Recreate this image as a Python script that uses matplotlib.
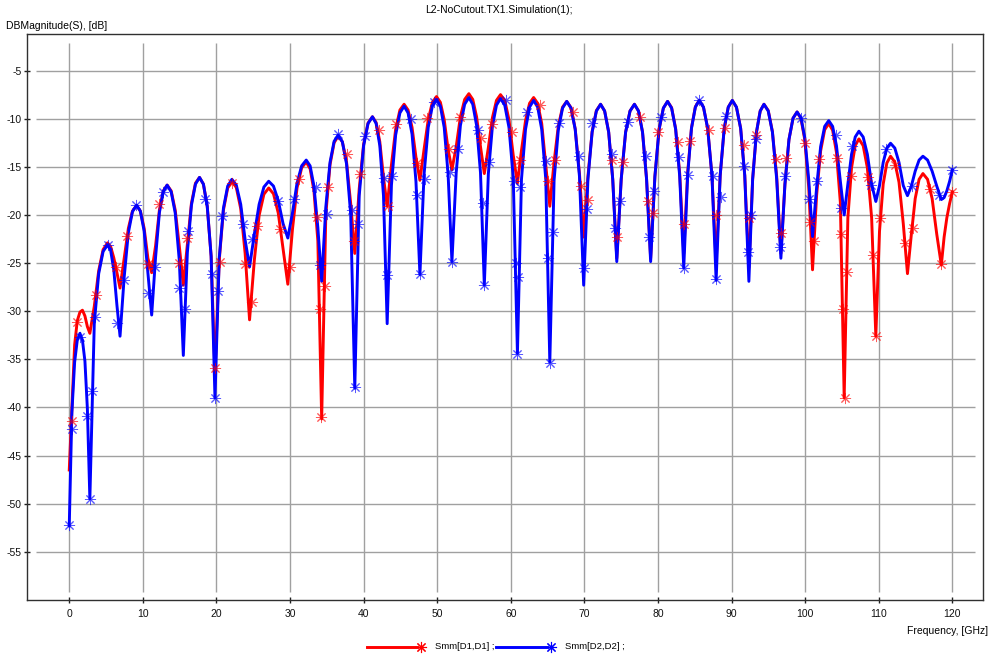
import matplotlib
matplotlib.use('Agg')
import matplotlib.pyplot as plt
from matplotlib.lines import Line2D

plt.rcParams['font.family'] = ['Liberation Sans', 'DejaVu Sans']
plt.rcParams['axes.unicode_minus'] = False

# Frequency points (GHz) shared by both traces
freq = [
    0.0, 0.36, 0.73, 1.09, 1.45, 1.79, 2.13, 2.46, 2.8, 3.4, 4.0, 4.6,
    5.2, 5.63, 6.05, 6.48, 6.9, 7.46, 8.03, 8.59, 9.15, 9.66, 10.18, 10.69,
    11.2, 11.73, 12.25, 12.78, 13.3, 13.85, 14.4, 14.95, 15.5, 16.05, 16.6, 17.15,
    17.7, 18.23, 18.75, 19.28, 19.8, 20.38, 20.95, 21.53, 22.1, 22.7, 23.3, 23.9,
    24.5, 25.15, 25.8, 26.45, 27.1, 27.75, 28.4, 29.05, 29.7, 30.33, 30.95, 31.58,
    32.2, 32.73, 33.25, 33.78, 34.3, 34.86, 35.43, 35.99, 36.55, 37.11, 37.68, 38.24,
    38.8, 39.4, 40.0, 40.6, 41.2, 41.7, 42.2, 42.7, 43.2, 43.78, 44.35, 44.93,
    45.5, 46.04, 46.58, 47.11, 47.65, 48.21, 48.78, 49.34, 49.9, 50.43, 50.95, 51.48,
    52.0, 52.58, 53.15, 53.73, 54.3, 54.83, 55.35, 55.88, 56.4, 56.95, 57.5, 58.05,
    58.6, 59.18, 59.75, 60.33, 60.9, 61.45, 62.0, 62.55, 63.1, 63.65, 64.2, 64.75,
    65.3, 65.88, 66.45, 67.03, 67.6, 68.18, 68.75, 69.33, 69.9, 70.48, 71.05, 71.63,
    72.2, 72.75, 73.3, 73.85, 74.4, 75.0, 75.6, 76.2, 76.8, 77.35, 77.9, 78.45,
    79.0, 79.58, 80.15, 80.73, 81.3, 81.85, 82.4, 82.95, 83.5, 84.03, 84.55, 85.08,
    85.6, 86.18, 86.75, 87.33, 87.9, 88.45, 89.0, 89.55, 90.1, 90.66, 91.23, 91.79,
    92.35, 92.86, 93.38, 93.89, 94.4, 94.98, 95.55, 96.13, 96.7, 97.25, 97.8, 98.35,
    98.9, 99.43, 99.95, 100.48, 101.0, 101.55, 102.1, 102.65, 103.2, 103.73, 104.25, 104.78,
    105.3, 105.8, 106.3, 106.8, 107.3, 107.88, 108.45, 109.03, 109.6, 110.1, 110.6, 111.1,
    111.6, 112.18, 112.75, 113.33, 113.9, 114.43, 114.95, 115.48, 116.0, 116.63, 117.25, 117.88,
    118.5, 118.88, 119.25, 119.63, 120.0,
]

# Smm[D1,D1] in dB (red trace)
smm_d1 = [
    -46.5, -40.0, -33.5, -31.0, -30.1, -29.9, -30.5, -31.6, -32.3, -29.5, -25.8, -23.6,
    -22.9, -23.3, -24.45, -26.0, -27.6, -24.5, -21.4, -19.6, -19.0, -19.6, -21.4, -24.5,
    -26.0, -23.2, -19.5, -17.5, -16.9, -17.5, -19.5, -23.2, -27.3, -23.1, -18.8, -16.7,
    -16.1, -16.8, -19.1, -24.3, -36.5, -24.7, -19.5, -17.2, -16.5, -17.15, -19.35, -24.0,
    -30.9, -24.7, -20.05, -17.85, -17.2, -17.8, -19.8, -23.5, -27.2, -21.5, -17.2, -15.1,
    -14.5, -15.2, -17.5, -22.7, -41.2, -20.0, -14.8, -12.5, -11.8, -12.4, -14.5, -18.8,
    -24.0, -17.3, -12.65, -10.45, -9.8, -10.4, -12.4, -16.1, -19.1, -14.8, -11.1, -9.1,
    -8.5, -9.1, -10.9, -14.0, -16.4, -13.2, -10.1, -8.3, -7.7, -8.3, -10.1, -13.2,
    -15.3, -12.9, -9.8, -8.0, -7.4, -8.0, -9.8, -12.9, -15.7, -13.0, -9.9, -8.1,
    -7.5, -8.1, -10.1, -13.8, -16.7, -13.3, -10.2, -8.4, -7.8, -8.4, -10.5, -14.8,
    -19.1, -14.5, -10.8, -8.8, -8.2, -8.85, -11.05, -15.7, -22.3, -16.0, -11.35, -9.15,
    -8.5, -9.2, -11.4, -16.3, -24.5, -16.3, -11.4, -9.2, -8.5, -9.2, -11.4, -16.3,
    -24.5, -16.0, -11.1, -8.9, -8.2, -8.85, -11.05, -15.7, -24.0, -15.6, -10.95, -8.75,
    -8.1, -8.8, -11.0, -15.9, -25.0, -15.9, -11.0, -8.8, -8.1, -8.8, -11.0, -15.9,
    -25.5, -16.3, -11.4, -9.2, -8.5, -9.15, -11.35, -16.0, -24.0, -16.8, -12.15, -9.95,
    -9.3, -10.0, -12.2, -17.1, -25.7, -18.0, -13.35, -11.15, -10.5, -11.2, -13.5, -18.7,
    -39.0, -20.3, -15.1, -12.8, -12.1, -12.8, -15.1, -20.3, -32.6, -21.7, -16.8, -14.6,
    -13.9, -14.5, -16.6, -20.9, -26.1, -22.0, -18.3, -16.3, -15.7, -16.3, -18.3, -22.0,
    -25.2, -22.3, -20.3, -18.8, -17.6,
]

# Smm[D2,D2] in dB (blue trace)
smm_d2 = [
    -52.3, -40.5, -35.3, -33.0, -32.3, -33.0, -35.2, -40.1, -49.5, -31.3, -26.1, -23.8,
    -23.1, -23.7, -25.7, -29.4, -32.6, -26.5, -21.85, -19.65, -19.0, -19.6, -21.7, -26.0,
    -30.4, -24.4, -19.75, -17.55, -16.9, -17.6, -19.8, -24.7, -34.6, -23.9, -19.0, -16.8,
    -16.1, -16.8, -19.1, -24.3, -39.0, -24.5, -19.3, -17.0, -16.3, -16.9, -18.9, -22.6,
    -25.4, -22.0, -18.9, -17.1, -16.5, -17.0, -18.5, -20.9, -22.4, -19.8, -16.7, -14.9,
    -14.3, -14.9, -17.0, -21.3, -26.9, -19.2, -14.55, -12.35, -11.7, -12.4, -14.7, -19.9,
    -38.0, -18.0, -12.8, -10.5, -9.8, -10.5, -12.8, -18.0, -31.3, -16.9, -11.7, -9.4,
    -8.7, -9.4, -11.6, -16.5, -26.2, -15.8, -10.9, -8.7, -8.0, -8.7, -10.9, -15.8,
    -24.85, -15.6, -10.7, -8.5, -7.8, -8.5, -10.7, -15.6, -27.3, -15.7, -10.8, -8.6,
    -7.9, -8.6, -10.9, -16.1, -34.4, -16.3, -11.1, -8.8, -8.1, -8.8, -11.1, -16.3,
    -35.3, -16.4, -11.2, -8.9, -8.2, -8.9, -11.1, -16.0, -27.3, -16.3, -11.4, -9.2,
    -8.5, -9.2, -11.4, -16.3, -24.85, -16.3, -11.4, -9.2, -8.5, -9.2, -11.4, -16.3,
    -24.85, -16.0, -11.1, -8.9, -8.2, -8.9, -11.1, -16.0, -25.5, -15.9, -11.0, -8.8,
    -8.1, -8.8, -11.0, -15.9, -26.8, -15.9, -11.0, -8.8, -8.1, -8.8, -11.0, -15.9,
    -26.9, -16.3, -11.4, -9.2, -8.5, -9.2, -11.4, -16.3, -24.5, -16.8, -12.15, -9.95,
    -9.3, -9.9, -12.0, -16.3, -22.25, -17.2, -12.9, -10.8, -10.2, -10.8, -12.8, -16.5,
    -20.0, -16.8, -13.7, -11.9, -11.3, -11.9, -13.7, -16.8, -18.6, -16.95, -14.55, -13.05,
    -12.55, -13.05, -14.55, -16.95, -18.0, -17.0, -15.45, -14.3, -13.9, -14.3, -15.45, -17.0,
    -18.4, -18.2, -17.5, -16.5, -15.3,
]

# Solver sample points shown with markers (GHz, dB)
d1_marks = [
    (0.33, -41.4), (1.1, -31.1), (3.6, -28.3), (6.35, -25.4), (7.9, -22.2), (10.7, -25.1),
    (12.2, -18.9), (14.9, -25.0), (15.95, -22.4), (19.8, -35.9), (20.5, -24.85), (22.1, -16.7),
    (23.9, -25.1), (24.8, -29.0), (25.5, -21.2), (28.7, -21.5), (30.0, -25.4), (31.25, -16.3),
    (33.7, -20.2), (34.06, -29.8), (34.2, -41.0), (34.75, -27.4), (35.2, -17.1), (37.7, -13.65),
    (38.7, -22.7), (39.5, -15.7), (42.1, -11.2), (43.35, -19.1), (44.4, -10.5), (47.2, -14.6),
    (48.6, -9.95), (51.6, -13.1), (53.1, -9.8), (55.9, -12.0), (57.4, -10.5), (60.1, -11.4),
    (61.2, -14.3), (64.0, -8.6), (65.1, -16.5), (66.0, -14.3), (68.4, -9.3), (69.5, -17.0),
    (70.5, -18.4), (73.8, -14.3), (74.4, -22.25), (75.2, -14.5), (77.6, -9.8), (78.7, -18.5),
    (79.3, -19.8), (80.0, -11.4), (82.7, -12.4), (83.5, -20.9), (84.3, -12.3), (86.95, -11.2),
    (87.95, -20.0), (89.1, -11.0), (91.7, -12.7), (92.4, -20.3), (93.3, -11.7), (96.0, -14.2),
    (96.7, -21.9), (97.4, -14.1), (100.0, -12.55), (100.6, -20.7), (101.2, -22.7), (101.9, -14.2),
    (104.35, -14.1), (104.9, -22.0), (105.2, -29.8), (105.4, -39.05), (105.7, -25.9), (106.2, -15.95),
    (108.6, -16.1), (109.2, -24.2), (109.6, -32.6), (110.1, -20.3), (112.2, -14.8), (113.5, -22.9),
    (114.6, -21.4), (117.0, -17.3), (118.5, -25.1), (120.0, -17.6),
]

d2_marks = [
    (0.0, -52.2), (0.33, -42.2), (1.45, -32.7), (2.45, -40.9), (2.8, -49.55), (3.1, -38.3),
    (3.5, -30.6), (5.2, -23.1), (6.5, -31.2), (7.5, -26.8), (9.06, -19.0), (10.7, -28.1),
    (11.65, -25.4), (12.8, -17.6), (14.9, -27.6), (15.7, -29.8), (16.2, -21.7), (18.5, -18.3),
    (19.35, -26.1), (19.8, -39.0), (20.25, -27.9), (20.8, -20.1), (23.55, -20.9), (24.9, -22.5),
    (28.4, -18.6), (30.6, -18.3), (33.5, -17.1), (34.06, -25.2), (35.0, -19.9), (36.55, -11.6),
    (38.4, -19.5), (38.8, -37.9), (39.3, -20.9), (40.2, -11.8), (42.75, -16.2), (43.2, -26.2),
    (43.9, -16.0), (46.5, -10.05), (47.2, -17.9), (47.65, -26.1), (48.3, -16.3), (49.55, -8.3),
    (51.7, -15.5), (52.0, -24.85), (52.85, -13.2), (55.6, -11.2), (56.2, -18.8), (56.4, -27.3),
    (57.1, -14.5), (59.3, -8.1), (60.4, -16.5), (60.7, -25.0), (60.9, -34.4), (61.0, -26.5),
    (61.3, -17.1), (62.2, -9.3), (64.8, -14.35), (65.1, -24.5), (65.3, -35.35), (65.7, -21.8),
    (66.6, -10.4), (69.3, -13.9), (69.9, -25.5), (70.3, -19.4), (71.1, -10.4), (73.7, -13.65),
    (74.1, -21.4), (74.8, -18.6), (75.95, -10.3), (78.35, -13.9), (78.8, -22.25), (79.4, -17.5),
    (80.4, -9.85), (82.9, -14.0), (83.5, -25.5), (84.1, -15.8), (85.6, -8.1), (87.5, -15.95),
    (87.95, -26.7), (88.5, -18.1), (89.3, -9.7), (91.7, -14.9), (92.25, -23.9), (92.7, -20.0),
    (93.3, -12.1), (96.55, -23.3), (97.2, -16.0), (99.5, -9.95), (100.55, -18.3), (101.6, -16.5),
    (104.2, -11.7), (104.9, -19.3), (106.3, -12.8), (109.0, -16.9), (111.0, -13.1), (114.45, -17.0),
    (118.2, -17.9), (120.0, -15.3),
]

x_ticks = list(range(0, 121, 10))
y_ticks = list(range(-55, 0, 5))

trace_names = ['Smm[D1,D1] ;', 'Smm[D2,D2] ;']
trace_colors = ['#ff0000', '#0000ff']
star = (8, 2, 0)   # asterisk marker


def make_plot():
    fig = plt.figure(figsize=(9.93, 6.54), dpi=100)
    ax = fig.add_axes([0.0275, 0.082, 0.9627, 0.866])

    # grid lines stop a little short of the frame, like the original tool
    ax.vlines(x_ticks, -59.16, -2.15, color='#a0a0a0', lw=1.0, zorder=0)
    ax.hlines(y_ticks, -4.5, 123.05, color='#a0a0a0', lw=1.0, zorder=0)

    # traces
    ax.plot(freq, smm_d1, color=trace_colors[0], lw=2.1, zorder=2)
    ax.plot(freq, smm_d2, color=trace_colors[1], lw=2.1, zorder=3)

    # sample markers
    for marks, col in [(d1_marks, trace_colors[0]), (d2_marks, trace_colors[1])]:
        mf = [m[0] for m in marks]
        md = [m[1] for m in marks]
        ax.plot(mf, md, linestyle='none', marker=star, ms=8, mew=0.7,
                color=col, alpha=0.65, zorder=4)

    ax.set_xlim(-5.7, 124.2)
    ax.set_ylim(-60.05, -1.2)
    ax.set_xticks(x_ticks)
    ax.set_yticks(y_ticks)
    ax.tick_params(direction='inout', length=5, width=1.0, color='#202020',
                   labelsize=7.5, labelcolor='#111111')
    ax.tick_params(axis='x', pad=4)
    ax.tick_params(axis='y', pad=1.5)
    for sp in ax.spines.values():
        sp.set_color('#303030')
        sp.set_linewidth(1.0)

    # titles / axis captions
    fig.text(0.5025, 0.985, 'L2-NoCutout.TX1.Simulation(1);', ha='center', va='center', fontsize=7.5)
    fig.text(0.006, 0.960, 'DBMagnitude(S), [dB]', ha='left', va='center', fontsize=7.5)
    fig.text(0.995, 0.035, 'Frequency, [GHz]', ha='right', va='center', fontsize=7.5)

    # legend at the bottom: line with marker at its right end
    y_leg = 1 - 646.7 / 654
    legend_x = [(366.7, 416.7, 435.0), (496.0, 546.7, 565.0)]
    for (x0, x1, xt), name, col in zip(legend_x, trace_names, trace_colors):
        fig.add_artist(Line2D([x0 / 993, x1 / 993], [y_leg, y_leg], color=col, lw=2.1,
                              transform=fig.transFigure))
        fig.add_artist(Line2D([(x1 + 4) / 993], [y_leg], color=col, marker=star, ms=8,
                              mew=0.8, linestyle='none', transform=fig.transFigure))
        fig.text(xt / 993, y_leg, name, ha='left', va='center', fontsize=6.8)

    fig.savefig('out.png', dpi=100)


if __name__ == "__main__":
    make_plot()
